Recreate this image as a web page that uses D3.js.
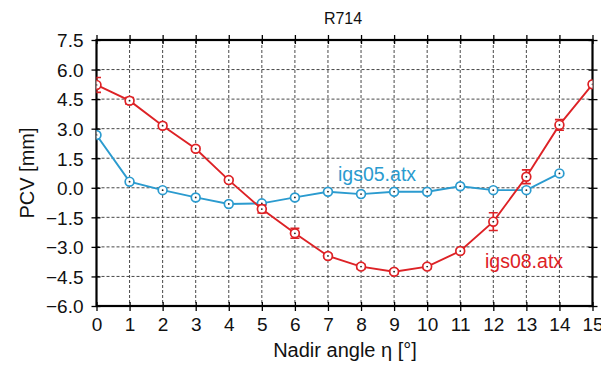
<!DOCTYPE html>
<html>
<head>
<meta charset="utf-8">
<script src="https://cdn.jsdelivr.net/npm/d3@7"></script>
<style>
  html, body { margin: 0; padding: 0; background: #fff; }
  svg { display: block; font-family: "Liberation Sans", Arial, Helvetica, sans-serif; }
</style>
</head>
<body>
<svg id="chart" width="601" height="365"></svg>
<script>
// Nadir angles (degrees)
const angles = [0, 1, 2, 3, 4, 5, 6, 7, 8, 9, 10, 11, 12, 13, 14, 15];
// igs05.atx PCV values [mm]
const igs05 = [2.68, 0.31, -0.12, -0.49, -0.82, -0.79, -0.49, -0.2, -0.32, -0.2, -0.2, 0.08, -0.12, -0.12, 0.73];
// igs08.atx PCV values [mm] and their 1-sigma errors
const igs08 = [5.22, 4.42, 3.15, 1.98, 0.39, -1.08, -2.31, -3.46, -4.0, -4.26, -4.0, -3.21, -1.72, 0.56, 3.19, 5.25];
const igs08Err = [0.38, 0.16, 0.12, 0.1, 0.1, 0.2, 0.25, 0.1, 0.12, 0.1, 0.1, 0.1, 0.45, 0.35, 0.27, 0.12];
// Axis ticks
const xTicks = d3.range(0, 16, 1);
const yTicks = [-6.0, -4.5, -3.0, -1.5, 0.0, 1.5, 3.0, 4.5, 6.0, 7.5];

const plotLeft = 96.5, plotRight = 592.5, plotTop = 40, plotBottom = 306;
const svg = d3.select("#chart");
const x = d3.scaleLinear().domain([0, 15]).range([plotLeft, plotRight]);
const y = d3.scaleLinear().domain([-6, 7.5]).range([plotBottom, plotTop]);

const blue = "#2b9bcf", red = "#dd2226";

// dashed grid
const grid = svg.append("g");
grid.selectAll("line.gx").data(xTicks.slice(1, -1)).join("line")
  .attr("x1", d => x(d)).attr("x2", d => x(d))
  .attr("y1", plotTop).attr("y2", plotBottom)
  .attr("stroke", "#333").attr("stroke-width", 0.9).attr("stroke-dasharray", "3,2");
grid.selectAll("line.gy").data(yTicks.slice(1, -1)).join("line")
  .attr("x1", plotLeft).attr("x2", plotRight)
  .attr("y1", d => y(d)).attr("y2", d => y(d))
  .attr("stroke", "#333").attr("stroke-width", 0.9).attr("stroke-dasharray", "3,2");

// axes: ticks cross the frame, labels on bottom and left
const fmt = d => (d < 0 ? "\u2212" + Math.abs(d).toFixed(1) : d.toFixed(1));
const xAxis = svg.append("g").attr("transform", `translate(0,${plotBottom})`)
  .call(d3.axisBottom(x).tickValues(xTicks).tickSize(5).tickPadding(7).tickFormat(d3.format("d")));
const yAxis = svg.append("g").attr("transform", `translate(${plotLeft},0)`)
  .call(d3.axisLeft(y).tickValues(yTicks).tickSize(5).tickPadding(8).tickFormat(fmt));
const xTop = svg.append("g").attr("transform", `translate(0,${plotTop})`)
  .call(d3.axisTop(x).tickValues(xTicks).tickSize(5).tickFormat(""));
const yRight = svg.append("g").attr("transform", `translate(${plotRight},0)`)
  .call(d3.axisRight(y).tickValues(yTicks).tickSize(5).tickFormat(""));
[xAxis, yAxis, xTop, yRight].forEach(g => {
  g.select(".domain").remove();
  g.selectAll(".tick line").attr("stroke", "#000").attr("stroke-width", 1.3);
  g.selectAll("text").attr("fill", "#111").attr("font-size", 19)
    .attr("font-family", "'Liberation Sans', Arial, sans-serif");
});
// inner part of each tick
xAxis.selectAll(".tick line").attr("y1", -4);
xTop.selectAll(".tick line").attr("y1", 4);
yAxis.selectAll(".tick line").attr("x1", 4);
yRight.selectAll(".tick line").attr("x1", -4);
yAxis.selectAll("text").attr("dy", "0.36em");

// frame
svg.append("rect").attr("x", plotLeft).attr("y", plotTop)
  .attr("width", plotRight - plotLeft).attr("height", plotBottom - plotTop)
  .attr("fill", "none").attr("stroke", "#000").attr("stroke-width", 2.2);

// data layer clipped to plot box
svg.append("clipPath").attr("id", "plotclip").append("rect")
  .attr("x", plotLeft).attr("y", plotTop - 10).attr("width", plotRight - plotLeft).attr("height", plotBottom - plotTop + 20);
const plot = svg.append("g").attr("clip-path", "url(#plotclip)");

const line = d3.line().x((d, i) => x(angles[i])).y(d => y(d));

function series(vals, color, errs) {
  const g = plot.append("g");
  g.append("path").datum(vals).attr("d", line)
    .attr("fill", "none").attr("stroke", color).attr("stroke-width", 1.9);
  if (errs) {
    const eb = g.selectAll("g.err").data(vals).join("g");
    eb.append("line")
      .attr("x1", (d, i) => x(angles[i])).attr("x2", (d, i) => x(angles[i]))
      .attr("y1", (d, i) => y(d + errs[i])).attr("y2", (d, i) => y(d - errs[i]))
      .attr("stroke", color).attr("stroke-width", 1.6);
    [1, -1].forEach(s => {
      eb.append("line")
        .attr("x1", (d, i) => x(angles[i]) - 4.5).attr("x2", (d, i) => x(angles[i]) + 4.5)
        .attr("y1", (d, i) => y(d + s * errs[i])).attr("y2", (d, i) => y(d + s * errs[i]))
        .attr("stroke", color).attr("stroke-width", 1.6);
    });
  }
  g.selectAll("circle.m").data(vals).join("circle")
    .attr("cx", (d, i) => x(angles[i])).attr("cy", d => y(d)).attr("r", 4.4)
    .attr("fill", "#fff").attr("stroke", color).attr("stroke-width", 1.7);
  g.selectAll("circle.c").data(vals).join("circle")
    .attr("cx", (d, i) => x(angles[i])).attr("cy", d => y(d)).attr("r", 0.9)
    .attr("fill", "#222");
}
series(igs05, blue, null);
series(igs08, red, igs08Err);

// labels
svg.append("text").attr("x", 343).attr("y", 23.5).attr("text-anchor", "middle")
  .attr("font-size", 16).attr("fill", "#111").text("R714");
svg.append("text").attr("x", 345).attr("y", 357).attr("text-anchor", "middle")
  .attr("font-size", 20).attr("fill", "#111").text("Nadir angle \u03B7 [\u00B0]");
svg.append("text").attr("transform", "translate(34,173) rotate(-90)").attr("text-anchor", "middle")
  .attr("font-size", 20).attr("fill", "#111").text("PCV [mm]");
svg.append("text").attr("x", 338).attr("y", 181).attr("font-size", 19.5)
  .attr("fill", blue).text("igs05.atx");
svg.append("text").attr("x", 485).attr("y", 268).attr("font-size", 19.5)
  .attr("fill", red).text("igs08.atx");
</script>
</body>
</html>
